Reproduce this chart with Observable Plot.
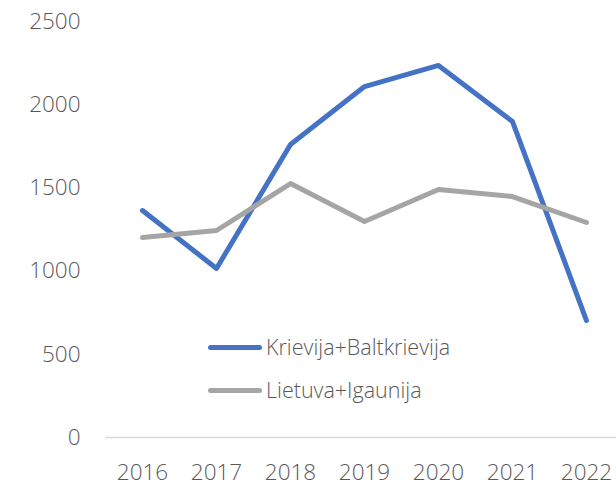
<!DOCTYPE html>
<html><head><meta charset="utf-8">
<script src="https://cdn.jsdelivr.net/npm/d3@7"></script>
<script src="https://cdn.jsdelivr.net/npm/@observablehq/plot@0.6"></script>
<style>
body{margin:0;background:#fff;font-family:"Open Sans",sans-serif;}
#wrap{position:relative;width:616px;height:487px;}
.leg{position:absolute;left:208px;display:flex;align-items:center;font-size:21.5px;font-weight:300;color:#595959;line-height:1;}
.leg span.sw{display:inline-block;width:54px;height:5px;border-radius:3px;margin-right:4px;}
</style></head>
<body><div id="wrap"></div>
<script>
const years = [2016, 2017, 2018, 2019, 2020, 2021, 2022];
const seriesNames = ["Krievija+Baltkrievija", "Lietuva+Igaunija"];
const krievija = [1364, 1016, 1761, 2109, 2236, 1899, 703];
const lietuva = [1202, 1244, 1526, 1298, 1490, 1448, 1292];
const colors = ["#4472C4", "#A5A5A5"];
const yTicks = [0, 500, 1000, 1500, 2000, 2500];

const data = [];
years.forEach((y, i) => {
  data.push({year: y, value: krievija[i], series: seriesNames[0]});
  data.push({year: y, value: lietuva[i], series: seriesNames[1]});
});

const chart = Plot.plot({
  width: 616, height: 487,
  marginLeft: 142, marginRight: 30, marginTop: 21, marginBottom: 50,
  style: {fontFamily: "'Open Sans', sans-serif", fontSize: "22.5px", fontWeight: 300, color: "#595959", background: "#fff"},
  x: {type: "point", domain: years, padding: 0, tickSize: 0, tickPadding: 27, tickFormat: d => String(d), label: null},
  y: {domain: [0, 2500], ticks: yTicks, tickSize: 0, tickPadding: 62, tickFormat: d => String(d), label: null},
  color: {domain: seriesNames, range: colors},
  marks: [
    Plot.ruleY([0], {stroke: "#d9d9d9", strokeWidth: 1.5, insetLeft: -37, insetRight: -30}),
    Plot.lineY(data, {x: "year", y: "value", stroke: "series", strokeWidth: 5, strokeLinecap: "round", strokeLinejoin: "round"})
  ]
});
const wrap = document.getElementById("wrap");
wrap.appendChild(chart);
chart.querySelectorAll("text").forEach(t => t.setAttribute("fill", "#595959"));

const legTops = [347, 390];
seriesNames.forEach((n, i) => {
  const d = document.createElement("div");
  d.className = "leg";
  d.style.top = (legTops[i] - 11) + "px";
  d.style.height = "22px";
  d.innerHTML = `<span class="sw" style="background:${colors[i]}"></span><span>${n}</span>`;
  wrap.appendChild(d);
});
</script></body></html>
